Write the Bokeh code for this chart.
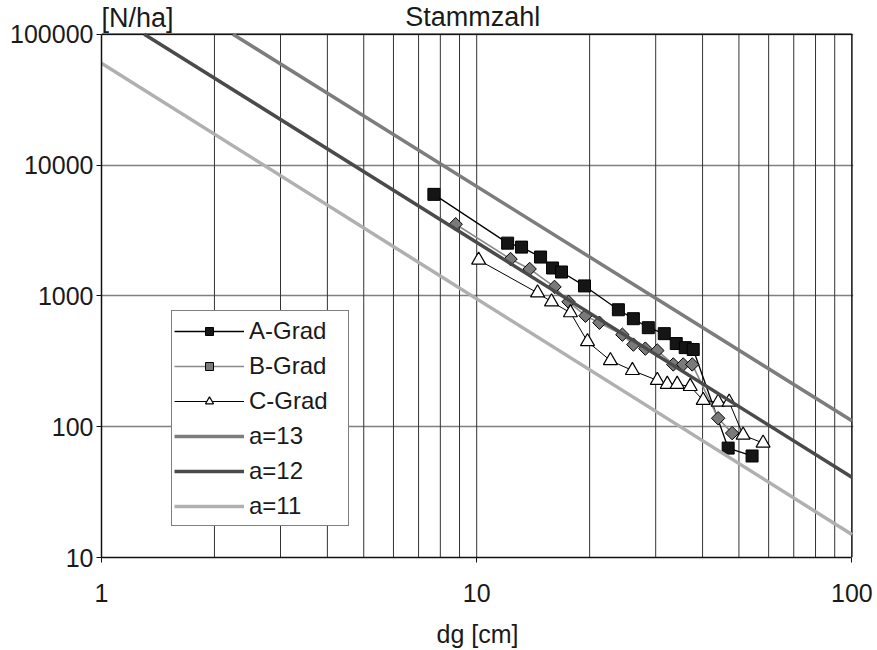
from bokeh.plotting import figure
from bokeh.models import FixedTicker, PrintfTickFormatter, Label, Range1d
from bokeh.embed import file_html
from bokeh.resources import INLINE

# ---- data ----
dg_A = [7.69, 12.09, 13.17, 14.80, 15.93, 16.83, 19.38, 23.86, 26.16, 28.67, 31.62, 34.03, 35.96, 37.77, 46.80, 54.20]
n_A = [5967, 2529, 2358, 1980, 1633, 1522, 1191, 783, 669, 571, 514, 432, 402, 389, 68.6, 59.7]

dg_B = [8.79, 12.31, 13.84, 16.12, 17.57, 19.50, 21.24, 24.45, 26.16, 28.15, 30.30, 33.42, 35.52, 37.54, 44.01, 47.96]
n_B = [3528, 1911, 1605, 1171, 900, 705, 623, 505, 424, 395, 382, 299, 299, 299, 116, 89.3]

dg_C = [10.12, 14.53, 15.83, 17.78, 19.74, 22.72, 26.00, 30.30, 32.21, 34.23, 37.08, 40.16, 44.01, 47.09, 51.30, 57.99]
n_C = [1878, 1054, 900, 743, 447, 320, 269, 226, 211, 211, 203, 159, 154, 154, 86.2, 74.9]

# reference lines (start / end points as drawn in the chart)
dg_a13 = [2.24, 100]
n_a13 = [100000, 111]
dg_a12 = [1.30, 100]
n_a12 = [100000, 41]
dg_a11 = [1, 100]
n_a11 = [60000, 15]

x_ticks = [1, 10, 100]
x_minor = [2, 3, 4, 5, 6, 7, 8, 9, 20, 30, 40, 50, 60, 70, 80, 90]
y_ticks = [10, 100, 1000, 10000, 100000]

FONT = "Liberation Sans"

x_lo, x_hi = x_ticks[0], x_ticks[-1]
y_lo, y_hi = y_ticks[0], y_ticks[-1]

# the frame reaches to the top of the canvas so that the titles sit inside it
p = figure(width=877, height=650, x_axis_type="log", y_axis_type="log",
           x_range=Range1d(x_lo, 101), y_range=Range1d(y_lo, 181000),
           output_backend="svg", toolbar_location=None,
           min_border_left=101, min_border_right=24, min_border_top=0, min_border_bottom=91)

p.background_fill_color = "white"
p.border_fill_color = "white"
p.outline_line_color = None

# axes
p.xaxis.ticker = FixedTicker(ticks=x_ticks, minor_ticks=[])
p.yaxis.ticker = FixedTicker(ticks=y_ticks, minor_ticks=[])
p.xaxis.formatter = PrintfTickFormatter(format="%d")
p.yaxis.formatter = PrintfTickFormatter(format="%d")
p.xaxis.bounds = (x_lo, x_hi)
p.yaxis.bounds = (y_lo, y_hi)
for ax in (p.xaxis, p.yaxis):
    ax.axis_line_color = "#111111"
    ax.axis_line_width = 1.5
    ax.major_tick_line_color = "#111111"
    ax.major_tick_line_width = 1
    ax.major_tick_in = 0
    ax.major_tick_out = 5
    ax.minor_tick_line_color = None
    ax.major_label_text_font = FONT
    ax.major_label_text_font_size = "25px"
    ax.major_label_text_color = "#1a1a1a"
p.yaxis.major_label_standoff = 3
p.xaxis.major_label_standoff = 21
p.xaxis.axis_label = "dg [cm]"
p.xaxis.axis_label_text_font = FONT
p.xaxis.axis_label_text_font_size = "25px"
p.xaxis.axis_label_text_font_style = "normal"
p.xaxis.axis_label_text_color = "#1a1a1a"
p.xaxis.axis_label_standoff = 15

# grid: horizontal decade lines from the y grid, vertical lines limited to the value range
p.xgrid.grid_line_color = None
p.xgrid.minor_grid_line_color = None
p.ygrid.grid_line_color = "#808080"
p.ygrid.grid_line_width = 1.5
p.ygrid.minor_grid_line_color = None

vx = x_minor + x_ticks[1:-1]
p.segment(x0=vx, y0=[y_lo] * len(vx), x1=vx, y1=[y_hi] * len(vx),
          line_color="#333333", line_width=1)
# top and right edges of the plot area
p.segment(x0=[x_lo, x_hi], y0=[y_hi, y_lo], x1=[x_hi, x_hi], y1=[y_hi, y_hi],
          line_color="#111111", line_width=1.5)

# data series
p.line(dg_A, n_A, line_color="black", line_width=1.3, legend_label="A-Grad")
p.scatter(dg_A, n_A, marker="square", size=12, fill_color="#151515", line_color="black",
          line_width=1, legend_label="A-Grad")

p.line(dg_B, n_B, line_color="#8a8a8a", line_width=1.6, legend_label="B-Grad")
p.scatter(dg_B, n_B, marker="square", angle=0.785398, size=9.5, fill_color="#7a7a7a",
          line_color="black", line_width=1, legend_label="B-Grad")

p.line(dg_C, n_C, line_color="black", line_width=1, legend_label="C-Grad")
p.scatter(dg_C, n_C, marker="triangle", size=14, fill_color="white", line_color="black",
          line_width=1.2, legend_label="C-Grad")

p.line(dg_a13, n_a13, line_color="#7d7d7d", line_width=3.5, legend_label="a=13")
p.line(dg_a12, n_a12, line_color="#4a4a4a", line_width=3.5, legend_label="a=12")
p.line(dg_a11, n_a11, line_color="#b0b0b0", line_width=3.5, legend_label="a=11")

# legend
lg = p.legend[0]
lg.location = (70, 31)
lg.padding = 2
lg.spacing = 0
lg.margin = 0
lg.glyph_width = 70
lg.glyph_height = 20
lg.label_height = 35
lg.label_width = 97
lg.label_standoff = 5
lg.label_text_font = FONT
lg.label_text_font_size = "24px"
lg.label_text_color = "#1a1a1a"
lg.border_line_color = "black"
lg.border_line_width = 1
lg.background_fill_color = "white"
lg.background_fill_alpha = 1

# titles above the 100000 line
p.add_layout(Label(x=10, y=y_hi, x_offset=-4, y_offset=17, text="Stammzahl",
                   text_align="center", text_baseline="alphabetic",
                   text_font=FONT, text_font_size="27px", text_color="#1a1a1a"))
p.add_layout(Label(x=x_lo, y=y_hi, x_offset=0, y_offset=16, text="[N/ha]",
                   text_align="left", text_baseline="alphabetic",
                   text_font=FONT, text_font_size="27px", text_color="#1a1a1a"))

open("out.html", "w").write(file_html(p, INLINE))
